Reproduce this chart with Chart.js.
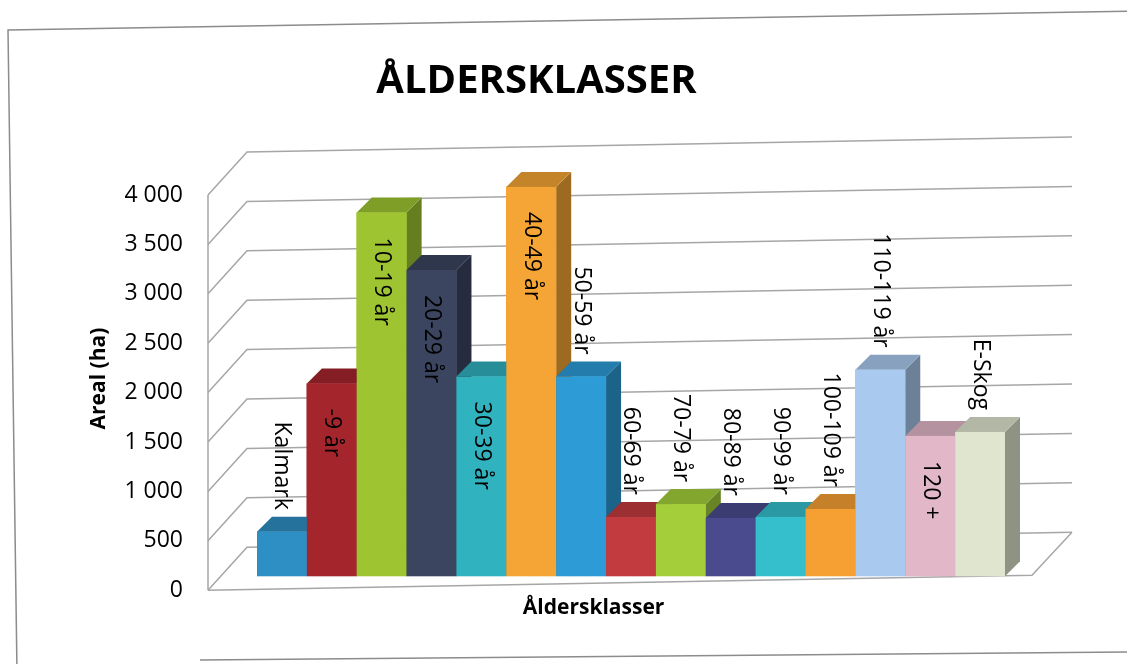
<!DOCTYPE html>
<html lang="sv">
<head>
<meta charset="utf-8">
<title>Åldersklasser</title>
<script src="https://cdn.jsdelivr.net/npm/chart.js@4.4.1/dist/chart.umd.min.js"></script>
<style>
  html, body { margin: 0; padding: 0; background: #fff; }
  #wrap { width: 1127px; height: 664px; position: relative; }
</style>
</head>
<body>
<div id="wrap"><canvas id="alderChart"></canvas></div>
<script>
// Data
const categories = ['Kalmark', '-9 år', '10-19 år', '20-29 år', '30-39 år', '40-49 år', '50-59 år',
    '60-69 år', '70-79 år', '80-89 år', '90-99 år', '100-109 år', '110-119 år', '120 +', 'E-Skog'];
const arealHa = [450, 1950, 3680, 3100, 2020, 3940, 2020, 600, 730, 590, 600, 680, 2090, 1420, 1460];
const barColors = ['#2e8fc4', '#a5252d', '#9ec531', '#3b4560', '#31b2bf', '#f5a535', '#2c9bd6',
    '#c23b3f', '#a4cf3a', '#4a4b8e', '#35bfcc', '#f6a033', '#a9c9ee', '#e2b7c7', '#dfe5cf'];
// etikett inne i stapeln eller ovanför
const labelInside = [false, true, true, true, true, true, false,
    false, false, false, false, false, false, true, false];
const yTicks = [0, 500, 1000, 1500, 2000, 2500, 3000, 3500, 4000];
const xTitle = 'Åldersklasser';

const DEPTH = 15;

function shade(hex, f) {
    const n = parseInt(hex.slice(1), 16);
    const r = Math.round(((n >> 16) & 255) * f);
    const g = Math.round(((n >> 8) & 255) * f);
    const b = Math.round((n & 255) * f);
    return 'rgb(' + r + ',' + g + ',' + b + ')';
}

function poly(ctx, pts) {
    ctx.beginPath();
    ctx.moveTo(pts[0][0], pts[0][1]);
    for (let i = 1; i < pts.length; i++) ctx.lineTo(pts[i][0], pts[i][1]);
    ctx.closePath();
    ctx.fill();
}

// väggar, golv och stödlinjer i "3D"
const frame3d = {
    id: 'frame3d',
    beforeDatasetsDraw(chart) {
        const { ctx, chartArea: a, scales: { y } } = chart;
        const slope = -15 / 825;
        const fx0 = a.left - 49, bx0 = a.left - 10, fx1 = a.right + 27, bx1 = a.right + 67;
        const front = v => y.getPixelForValue(v) + 14;
        const back = v => y.getPixelForValue(v) - 29;
        ctx.save();
        // sidans ram
        ctx.strokeStyle = '#8c8c8c';
        ctx.lineWidth = 1.5;
        ctx.beginPath();
        ctx.moveTo(17, 672);
        ctx.lineTo(8, 30);
        ctx.lineTo(1135, 11);
        ctx.moveTo(200, 660);
        ctx.lineTo(1135, 652);
        ctx.stroke();

        ctx.strokeStyle = '#a6a6a6';
        ctx.lineWidth = 1.5;
        yTicks.forEach(v => {
            const yf = front(v), yb = back(v);
            ctx.beginPath();
            ctx.moveTo(fx0, yf);
            ctx.lineTo(bx0, yb);
            ctx.lineTo(bx1, yb + slope * (bx1 - bx0));
            ctx.stroke();
        });
        ctx.beginPath();
        ctx.moveTo(fx0, front(0));
        ctx.lineTo(fx0, front(yTicks[yTicks.length - 1]));
        ctx.stroke();
        // golv
        ctx.beginPath();
        ctx.moveTo(fx0, front(0));
        ctx.lineTo(fx1, front(0) + slope * (fx1 - fx0));
        ctx.lineTo(bx1, back(0) + slope * (bx1 - bx0));
        ctx.stroke();

        // x-axelns rubrik (något till vänster om mitten, som i originalet)
        ctx.fillStyle = '#000';
        ctx.font = 'bold 21px "Open Sans"';
        ctx.textAlign = 'center';
        ctx.textBaseline = 'middle';
        ctx.fillText(xTitle, a.left + (a.right - a.left) * 0.45, a.bottom + 32);
        ctx.restore();
    },
    afterDatasetsDraw(chart) {
        const { ctx } = chart;
        const meta = chart.getDatasetMeta(0);
        ctx.save();
        meta.data.forEach((bar, i) => {
            const p = bar.getProps(['x', 'y', 'base', 'width'], true);
            const L = p.x - p.width / 2, R = p.x + p.width / 2;
            const c = barColors[i];
            ctx.fillStyle = shade(c, 0.64);
            poly(ctx, [[R, p.y], [R + DEPTH, p.y - DEPTH], [R + DEPTH, p.base - DEPTH], [R, p.base]]);
            ctx.fillStyle = shade(c, 0.8);
            poly(ctx, [[L, p.y], [L + DEPTH, p.y - DEPTH], [R + DEPTH, p.y - DEPTH], [R, p.y]]);
            ctx.fillStyle = c;
            ctx.fillRect(L, p.y, R - L, p.base - p.y);
        });
        // stående etiketter
        ctx.fillStyle = '#000';
        ctx.font = '23px "Open Sans"';
        ctx.textBaseline = 'middle';
        meta.data.forEach((bar, i) => {
            ctx.save();
            if (labelInside[i]) {
                ctx.translate(bar.x, bar.y + 25);
                ctx.textAlign = 'left';
            } else {
                ctx.translate(bar.x, bar.y - 22);
                ctx.textAlign = 'right';
            }
            ctx.rotate(Math.PI / 2);
            ctx.fillText(categories[i], 0, 0);
            ctx.restore();
        });
        ctx.restore();
    }
};

new Chart(document.getElementById('alderChart'), {
    type: 'bar',
    data: {
        labels: categories,
        datasets: [{
            label: 'Areal (ha)',
            data: arealHa,
            backgroundColor: barColors,
            borderWidth: 0,
            barPercentage: 1,
            categoryPercentage: 1
        }]
    },
    options: {
        responsive: true,
        maintainAspectRatio: false,
        animation: false,
        layout: { padding: { left: 68, right: 122, top: 30, bottom: 43 } },
        plugins: {
            legend: { display: false },
            tooltip: { enabled: false },
            title: {
                display: true,
                text: 'ÅLDERSKLASSER',
                color: '#000',
                font: { family: '"Open Sans"', size: 40, weight: 'bold' },
                padding: { top: 28, bottom: 75 }
            }
        },
        scales: {
            x: {
                grid: { display: false },
                border: { display: false },
                ticks: { display: false },
                afterFit(scale) { scale.height = 44; }
            },
            y: {
                min: 0,
                max: 4000,
                grid: { display: false, drawTicks: false },
                border: { display: false },
                ticks: {
                    stepSize: 500,
                    padding: 74,
                    labelOffset: 14,
                    color: '#000',
                    font: { family: '"Open Sans"', size: 23 },
                    callback: v => String(v).replace(/\B(?=(\d{3})+(?!\d))/g, ' ')
                },
                title: {
                    display: true,
                    text: 'Areal (ha)',
                    color: '#000',
                    font: { family: '"Open Sans"', size: 21, weight: 'bold' },
                    padding: { top: 18, bottom: 0 }
                },
                afterFit(scale) { scale.width = 189; }
            }
        }
    },
    plugins: [frame3d]
});
</script>
</body>
</html>
